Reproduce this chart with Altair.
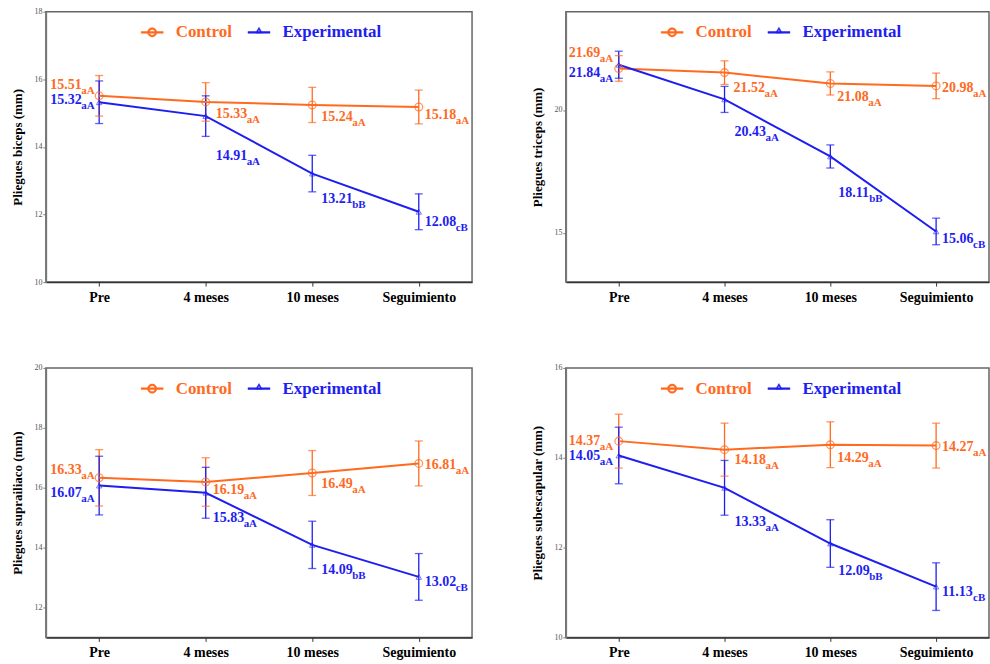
import altair as alt
import pandas as pd

# Measurement times and groups
times = ["Pre", "4 meses", "10 meses", "Seguimiento"]
groups = ["Control", "Experimental"]

# Pliegues bíceps (mm): mean and error-bar half width per time
biceps_control = [15.51, 15.33, 15.24, 15.18]
biceps_control_err = [0.60, 0.57, 0.52, 0.50]
biceps_control_sub = ["aA", "aA", "aA", "aA"]
biceps_exp = [15.32, 14.91, 13.21, 12.08]
biceps_exp_err = [0.63, 0.60, 0.54, 0.53]
biceps_exp_sub = ["aA", "aA", "bB", "cB"]

# Pliegues tríceps (mm)
triceps_control = [21.69, 21.52, 21.08, 20.98]
triceps_control_err = [0.52, 0.48, 0.47, 0.52]
triceps_control_sub = ["aA", "aA", "aA", "aA"]
triceps_exp = [21.84, 20.43, 18.11, 15.06]
triceps_exp_err = [0.55, 0.53, 0.47, 0.54]
triceps_exp_sub = ["aA", "aA", "bB", "cB"]

# Pliegues suprailiaco (mm)
supra_control = [16.33, 16.19, 16.49, 16.81]
supra_control_err = [0.94, 0.81, 0.75, 0.75]
supra_control_sub = ["aA", "aA", "aA", "aA"]
supra_exp = [16.07, 15.83, 14.09, 13.02]
supra_exp_err = [0.98, 0.85, 0.79, 0.78]
supra_exp_sub = ["aA", "aA", "bB", "cB"]

# Pliegues subescapular (mm)
subes_control = [14.37, 14.18, 14.29, 14.27]
subes_control_err = [0.60, 0.59, 0.51, 0.50]
subes_control_sub = ["aA", "aA", "aA", "aA"]
subes_exp = [14.05, 13.33, 12.09, 11.13]
subes_exp_err = [0.63, 0.61, 0.53, 0.53]
subes_exp_sub = ["aA", "aA", "bB", "cB"]

# Pixel nudges of the value labels relative to their point (layout only)
biceps_nudge = {"Control": ([-49, 10, 9, 6], [-11, 12, 12, 8]),
                "Experimental": ([-49, 10, 9, 6], [-2, 40, 25, 10])}
triceps_nudge = {"Control": ([-50, 9, 7, 6], [-15, 15, 14, 2]),
                 "Experimental": ([-50, 10, 8, 6], [8, 33, 37, 8])}
supra_nudge = {"Control": ([-49, 7, 9, 6], [-8, 8, 11, 2]),
               "Experimental": ([-49, 7, 9, 6], [7, 25, 25, 5])}
subes_nudge = {"Control": ([-50, 10, 7, 6], [0, 10, 13, 1]),
               "Experimental": ([-50, 10, 8, 6], [1, 34, 28, 5])}

ORANGE = "#FF6A1F"
BLUE = "#1E1EF0"
SERIF = "Liberation Serif"

# Legend glyphs drawn as filled outlines (ring / hollow triangle) crossed by a bar,
# so they read as open markers on a line whatever fill the legend applies
BAR = "M-1,-0.08L1,-0.08L1,0.08L-1,0.08Z"
LEG_CIRCLE = (BAR +
              "M0.42,0A0.42,0.42,0,1,1,-0.42,0A0.42,0.42,0,1,1,0.42,0Z"
              "M0.27,0A0.27,0.27,0,1,0,-0.27,0A0.27,0.27,0,1,0,0.27,0Z")
LEG_TRIANGLE = (BAR +
                "M0,-0.46L0.3,0.06L-0.3,0.06Z"
                "M0,-0.27L-0.14,-0.03L0.14,-0.03Z")


def build_frame(ctrl, ctrl_err, ctrl_sub, exp, exp_err, exp_sub, nudge):
    rows = []
    series = [("Control", ctrl, ctrl_err, ctrl_sub), ("Experimental", exp, exp_err, exp_sub)]
    for grp, vals, errs, subs in series:
        dxs, dys = nudge[grp]
        for t, v, e, s, dx, dy in zip(times, vals, errs, subs, dxs, dys):
            rows.append({"time": t, "group": grp, "mean": v, "lo": v - e, "hi": v + e,
                         "label": f"{v:.2f}", "sub": s, "dx": dx, "dy": dy})
    return pd.DataFrame(rows)


def panel(df, title, domain, ticks, width, height):
    base = alt.Chart(df)
    x = alt.X("time:N", sort=times,
              scale=alt.Scale(type="point", padding=0.5),
              axis=alt.Axis(title=None, labelFont=SERIF, labelFontWeight="bold",
                            labelFontSize=14, labelColor="black", labelAngle=0,
                            tickSize=4, labelPadding=4, domainColor="#333",
                            tickColor="#333", domainWidth=1.5))

    def y(field):
        return alt.Y(f"{field}:Q",
                     scale=alt.Scale(domain=domain, nice=False, zero=False),
                     axis=alt.Axis(title=title, values=ticks, grid=False,
                                   labelFont=SERIF, labelFontSize=8, labelColor="#555",
                                   tickSize=3, tickColor="#777", domainColor="#777",
                                   domainWidth=1.5, labelPadding=1,
                                   titleFont=SERIF, titleFontWeight="bold",
                                   titleFontSize=13, titleColor="black", titlePadding=9))

    color = alt.Color("group:N", scale=alt.Scale(domain=groups, range=[ORANGE, BLUE]),
                      legend=None)

    # Invisible layer that carries the in-plot legend (kept first so its legend wins)
    legend = alt.Legend(
        title=None, orient="none", legendX=95, legendY=9, direction="horizontal",
        labelFont=SERIF, labelFontWeight="bold", labelFontSize=17,
        labelColor=alt.expr(f"datum.value == 'Control' ? '{ORANGE}' : '{BLUE}'"),
        symbolSize=484, symbolStrokeWidth=0.5, symbolOpacity=1,
        labelOffset=12, columnPadding=14, padding=0,
    )
    legend_carrier = base.mark_point(filled=True, fill="white", strokeWidth=0.5).encode(
        x=x, y=y("mean"),
        stroke=alt.Stroke("group:N", scale=alt.Scale(domain=groups, range=[ORANGE, BLUE]),
                          legend=legend),
        shape=alt.Shape("group:N",
                        scale=alt.Scale(domain=groups, range=[LEG_CIRCLE, LEG_TRIANGLE]),
                        legend=legend),
        opacity=alt.value(0),
    )

    bars = base.mark_rule(strokeWidth=1.3).encode(x=x, y=y("lo"), y2="hi:Q", color=color)
    caps_lo = base.mark_tick(size=8, thickness=1.3, orient="horizontal").encode(
        x=x, y=y("lo"), color=color)
    caps_hi = base.mark_tick(size=8, thickness=1.3, orient="horizontal").encode(
        x=x, y=y("hi"), color=color)

    lines = base.mark_line(strokeWidth=2).encode(x=x, y=y("mean"), color=color)

    circles = base.transform_filter(alt.datum.group == "Control").mark_point(
        shape="circle", filled=False, size=60, strokeWidth=1.3, color=ORANGE
    ).encode(x=x, y=y("mean"))
    triangles = base.transform_filter(alt.datum.group == "Experimental").mark_point(
        shape="triangle-up", filled=False, size=30, strokeWidth=1, opacity=0.6, color=BLUE
    ).encode(x=x, y=y("mean"))

    values = base.mark_text(align="left", baseline="middle", font=SERIF,
                            fontWeight="bold", fontSize=14,
                            dx=alt.expr("datum.dx"), dy=alt.expr("datum.dy")).encode(
        x=x, y=y("mean"), text="label:N", color=color)
    subs = base.transform_calculate(sdx="datum.dx + 31", sdy="datum.dy + 6").mark_text(
        align="left", baseline="middle", font=SERIF, fontWeight="bold", fontSize=11,
        dx=alt.expr("datum.sdx"), dy=alt.expr("datum.sdy")).encode(
        x=x, y=y("mean"), text="sub:N", color=color)

    return alt.layer(legend_carrier, bars, caps_lo, caps_hi, lines, circles, triangles,
                     values, subs).properties(width=width, height=height)


p1 = panel(build_frame(biceps_control, biceps_control_err, biceps_control_sub,
                       biceps_exp, biceps_exp_err, biceps_exp_sub, biceps_nudge),
           "Pliegues biceps (mm)", [10, 18], [10, 12, 14, 16, 18], 427, 271)
p2 = panel(build_frame(triceps_control, triceps_control_err, triceps_control_sub,
                       triceps_exp, triceps_exp_err, triceps_exp_sub, triceps_nudge),
           "Pliegues triceps (mm)", [13, 24], [15, 20], 424, 271)
p3 = panel(build_frame(supra_control, supra_control_err, supra_control_sub,
                       supra_exp, supra_exp_err, supra_exp_sub, supra_nudge),
           "Pliegues suprailiaco (mm)", [11, 20], [12, 14, 16, 18, 20], 427, 270)
p4 = panel(build_frame(subes_control, subes_control_err, subes_control_sub,
                       subes_exp, subes_exp_err, subes_exp_sub, subes_nudge),
           "Pliegues subescapular (mm)", [10, 16], [10, 12, 14, 16], 424, 270)

resolved = dict(stroke="independent", shape="independent", color="independent")

top = alt.hconcat(p1, p2, spacing=58).resolve_scale(**resolved).resolve_legend(**resolved)
bottom = alt.hconcat(p3, p4, spacing=58).resolve_scale(**resolved).resolve_legend(**resolved)

chart = alt.vconcat(top, bottom, spacing=58).resolve_scale(**resolved).resolve_legend(
    **resolved).properties(
    padding={"left": 11, "top": 6, "right": 0, "bottom": 0},
    background="white",
).configure_view(stroke="#666", strokeWidth=1.5)

chart.save("out.html", embed_options={"renderer": "svg", "actions": False})
